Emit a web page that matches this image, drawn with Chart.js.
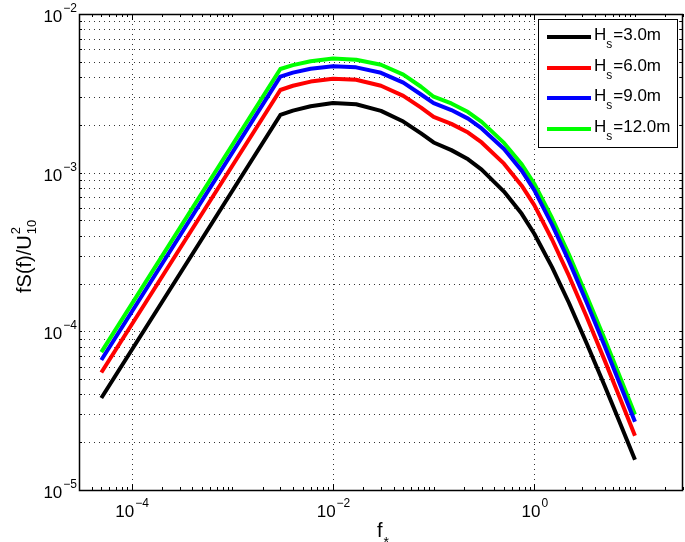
<!DOCTYPE html>
<html>
<head>
<meta charset="utf-8">
<script src="https://cdn.jsdelivr.net/npm/chart.js@4/dist/chart.umd.min.js"></script>
<style>
  body { margin: 0; background: #fff; }
  canvas { display: block; }
</style>
</head>
<body>
<canvas id="specChart" width="685" height="542"></canvas>
<script>
// normalised frequency f* and fS(f)/U10^2
var freq  = [5e-5, 3e-3, 4e-3, 6e-3, 0.01, 0.017, 0.03, 0.05, 0.075, 0.1, 0.15, 0.22, 0.3, 0.5, 0.75, 1, 1.5, 2.2, 3.3, 5, 7, 10];
var hs3   = [3.8e-5, 2.31e-3, 2.46e-3, 2.62e-3, 2.75e-3, 2.70e-3, 2.45e-3, 2.10e-3, 1.77e-3, 1.55e-3, 1.387e-3, 1.213e-3, 1.045e-3, 7.6e-4, 5.5e-4, 4.12e-4, 2.54e-4, 1.52e-4, 8.45e-5, 4.54e-5, 2.7e-5, 1.55e-5];
var hs6   = [5.5e-5, 3.32e-3, 3.53e-3, 3.75e-3, 3.91e-3, 3.85e-3, 3.53e-3, 3.05e-3, 2.57e-3, 2.25e-3, 2.03e-3, 1.79e-3, 1.55e-3, 1.14e-3, 8.28e-4, 6.24e-4, 3.79e-4, 2.25e-4, 1.24e-4, 6.56e-5, 3.87e-5, 2.2e-5];
var hs9   = [6.6e-5, 4.03e-3, 4.27e-3, 4.52e-3, 4.69e-3, 4.61e-3, 4.26e-3, 3.69e-3, 3.11e-3, 2.74e-3, 2.48e-3, 2.19e-3, 1.90e-3, 1.41e-3, 1.03e-3, 7.76e-4, 4.71e-4, 2.79e-4, 1.53e-4, 8.07e-5, 4.75e-5, 2.69e-5];
var hs12  = [7.4e-5, 4.50e-3, 4.76e-3, 5.04e-3, 5.24e-3, 5.15e-3, 4.79e-3, 4.15e-3, 3.48e-3, 3.01e-3, 2.73e-3, 2.41e-3, 2.09e-3, 1.54e-3, 1.13e-3, 8.51e-4, 5.18e-4, 3.07e-4, 1.68e-4, 8.93e-5, 5.26e-5, 2.99e-5];

var seriesLabels = ["3.0m", "6.0m", "9.0m", "12.0m"];
var seriesColors = ["#000000", "#ff0000", "#0000ff", "#00ff00"];
var seriesValues = [hs3, hs6, hs9, hs12];

var xTickExps = [-4, -2, 0];
var yTickExps = [-5, -4, -3, -2];

var FONT = "'Liberation Sans', Arial, Helvetica, sans-serif";

function toPoints(vals) {
  var pts = [];
  for (var i = 0; i < freq.length; i++) pts.push({ x: freq[i], y: vals[i] });
  return pts;
}

var datasets = [];
for (var s = 0; s < seriesValues.length; s++) {
  datasets.push({
    label: "Hs=" + seriesLabels[s],
    data: toPoints(seriesValues[s]),
    borderColor: seriesColors[s],
    backgroundColor: seriesColors[s],
    borderWidth: 4,
    borderJoinStyle: "round",
    pointRadius: 0,
    tension: 0,
    fill: false
  });
}

function minorValues(scale) {
  var out = [];
  for (var e = -6; e <= 2; e++) {
    for (var m = 1; m <= 9; m++) {
      var v = m * Math.pow(10, e);
      if (v >= scale.min * 0.9999 && v <= scale.max * 1.0001) out.push(v);
    }
  }
  return out;
}

// "10" with a raised exponent
function drawPow(ctx, exp, x, y, align) {
  var base = "10";
  var ex = exp < 0 ? "\u2212" + (-exp) : String(exp);
  ctx.font = "17px " + FONT;
  var wb = ctx.measureText(base).width;
  ctx.font = "12px " + FONT;
  var we = ctx.measureText(ex).width;
  var x0 = align === "center" ? x - (wb + we) / 2 : x - (wb + we);
  ctx.textAlign = "left";
  ctx.textBaseline = "alphabetic";
  ctx.font = "17px " + FONT;
  ctx.fillText(base, x0, y);
  ctx.font = "12px " + FONT;
  ctx.fillText(ex, x0 + wb + 1, y - 10);
}

var matlabAxes = {
  id: "matlabAxes",
  beforeDraw: function (chart) {
    var ctx = chart.ctx;
    ctx.save();
    ctx.fillStyle = "#fff";
    ctx.fillRect(0, 0, chart.width, chart.height);
    ctx.restore();
  },
  beforeDatasetsDraw: function (chart) {
    var ctx = chart.ctx, a = chart.chartArea;
    var xs = chart.scales.x, ys = chart.scales.y;
    ctx.save();
    ctx.strokeStyle = "#333";
    ctx.lineWidth = 1;
    ctx.setLineDash([1, 4]);
    minorValues(ys).forEach(function (v) {
      var py = Math.round(ys.getPixelForValue(v)) + 0.5;
      if (py < a.top + 2 || py > a.bottom - 2) return;
      ctx.beginPath();
      ctx.moveTo(a.left, py);
      ctx.lineTo(a.right, py);
      ctx.stroke();
    });
    xTickExps.forEach(function (e) {
      var px = Math.round(xs.getPixelForValue(Math.pow(10, e))) + 0.5;
      ctx.beginPath();
      ctx.moveTo(px, a.top);
      ctx.lineTo(px, a.bottom);
      ctx.stroke();
    });
    ctx.restore();
  },
  afterDatasetsDraw: function (chart) {
    var ctx = chart.ctx, a = chart.chartArea;
    var xs = chart.scales.x, ys = chart.scales.y;
    ctx.save();
    ctx.strokeStyle = "#000";
    ctx.fillStyle = "#000";
    ctx.lineWidth = 1;
    ctx.setLineDash([]);

    // ticks, pointing inward
    minorValues(xs).forEach(function (v) {
      var px = Math.round(xs.getPixelForValue(v)) + 0.5;
      ctx.beginPath();
      ctx.moveTo(px, a.bottom); ctx.lineTo(px, a.bottom - 3);
      ctx.moveTo(px, a.top); ctx.lineTo(px, a.top + 3);
      ctx.stroke();
    });
    xTickExps.forEach(function (e) {
      var px = Math.round(xs.getPixelForValue(Math.pow(10, e))) + 0.5;
      ctx.beginPath();
      ctx.moveTo(px, a.bottom); ctx.lineTo(px, a.bottom - 6);
      ctx.moveTo(px, a.top); ctx.lineTo(px, a.top + 6);
      ctx.stroke();
    });
    minorValues(ys).forEach(function (v) {
      var py = Math.round(ys.getPixelForValue(v)) + 0.5;
      ctx.beginPath();
      ctx.moveTo(a.left, py); ctx.lineTo(a.left + 3, py);
      ctx.moveTo(a.right, py); ctx.lineTo(a.right - 3, py);
      ctx.stroke();
    });

    // axes box
    ctx.lineWidth = 1.5;
    ctx.strokeRect(Math.round(a.left) + 0.5, Math.round(a.top) + 0.5,
      Math.round(a.right - a.left) - 1, Math.round(a.bottom - a.top));

    // tick labels
    xTickExps.forEach(function (e) {
      drawPow(ctx, e, xs.getPixelForValue(Math.pow(10, e)), a.bottom + 27, "center");
    });
    yTickExps.forEach(function (e) {
      drawPow(ctx, e, a.left - 3, ys.getPixelForValue(Math.pow(10, e)) + 8, "right");
    });

    // y title: fS(f)/U^2_10
    ctx.save();
    ctx.translate(31, 293);
    ctx.rotate(-Math.PI / 2);
    ctx.textAlign = "left";
    ctx.font = "20px " + FONT;
    ctx.fillText("fS(f)/U", 0, 0);
    var w = ctx.measureText("fS(f)/U").width;
    ctx.font = "13px " + FONT;
    ctx.fillText("2", w + 1, -11);
    ctx.fillText("10", w + 1, 5);
    ctx.restore();

    // x title: f_*
    ctx.textAlign = "left";
    ctx.font = "20px " + FONT;
    ctx.fillText("f", 377, 537);
    var wf = ctx.measureText("f").width;
    ctx.font = "14px " + FONT;
    ctx.fillText("*", 377 + wf + 1, 547);

    // legend
    var lx = 538.5, ly = 19.5, lw = 139, lh = 128;
    ctx.fillStyle = "#fff";
    ctx.fillRect(lx, ly, lw, lh);
    ctx.lineWidth = 1;
    ctx.strokeStyle = "#000";
    ctx.strokeRect(lx, ly, lw, lh);
    var rows = [37, 68, 98, 129];
    for (var i = 0; i < seriesLabels.length; i++) {
      var ry = rows[i];
      ctx.strokeStyle = seriesColors[i];
      ctx.lineWidth = 4;
      ctx.beginPath();
      ctx.moveTo(547, ry);
      ctx.lineTo(591, ry);
      ctx.stroke();
      ctx.fillStyle = "#000";
      ctx.font = "17px " + FONT;
      ctx.fillText("H", 594, ry + 3);
      var wh = ctx.measureText("H").width;
      ctx.font = "12px " + FONT;
      ctx.fillText("s", 594 + wh, ry + 11);
      var ws = ctx.measureText("s").width;
      ctx.font = "17px " + FONT;
      ctx.fillText("=" + seriesLabels[i], 594 + wh + ws + 1, ry + 3);
    }
    ctx.restore();
  }
};

var context = document.getElementById("specChart").getContext("2d");
var myChart = new Chart(context, {
  type: "line",
  data: { datasets: datasets },
  options: {
    responsive: false,
    animation: false,
    devicePixelRatio: 1,
    layout: { padding: { left: 79, top: 14, right: 2, bottom: 52 } },
    plugins: {
      legend: { display: false },
      tooltip: { enabled: false }
    },
    scales: {
      x: { type: "logarithmic", min: 3e-5, max: 30, display: false },
      y: { type: "logarithmic", min: 1e-5, max: 1e-2, display: false }
    }
  },
  plugins: [matlabAxes]
});
</script>
</body>
</html>
